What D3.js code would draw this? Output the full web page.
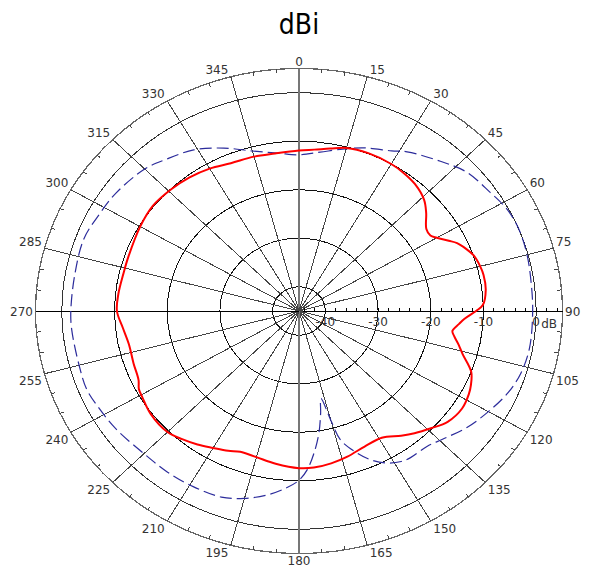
<!DOCTYPE html>
<html><head><meta charset="utf-8">
<script src="https://cdn.jsdelivr.net/npm/d3@7"></script>
<style>html,body{margin:0;padding:0;background:#fff;}svg{display:block;}</style>
</head><body>
<script>
// ---- data ----
const title = "dBi";
const angleTicks = d3.range(0, 360, 15);
const ringValues = [-40, -30, -20, -10, 0];
const ringLabels = ["-40", "-30", "-20", "-10", "0"];
const dbUnit = "dB";

const redAngles = [0,5,10,15,22,30,35,40,46,50,55,58,60,63,65,68,71,75,78,83,88,90,93,95,98,100,103,106,111,115,118,123,129,134,139,143,149,156,163,169,175,180,188,195,201,205,210,215,220,225,233,239,242,245,251,258,264,270,276,283,289,300,308,316,323,330,337,345,352];
const redValues = [-11.9,-11.6,-11.0,-10.2,-9.9,-10.0,-10.3,-10.8,-12.0,-13.5,-15.5,-15.6,-14.8,-13.1,-11.9,-10.8,-9.9,-9.4,-9.2,-9.3,-10.1,-11.4,-13.6,-14.5,-15.6,-15.1,-13.9,-12.7,-10.0,-9.0,-8.5,-8.1,-8.7,-10.2,-11.6,-12.8,-14.5,-14.4,-13.6,-13.0,-12.6,-12.6,-13.2,-13.8,-13.9,-13.2,-12.4,-11.4,-10.5,-9.7,-9.75,-10.35,-10.6,-11.4,-11.8,-12.0,-11.4,-10.45,-10.55,-10.8,-10.75,-10.2,-9.8,-10.1,-10.5,-11.1,-11.9,-12.05,-12.2];

const blueAngles = [0,7,14,20,28,32,41,48,56,62,68,75,82,90,100,107,113,120,127,134,139,145,148,152,156,160,163.5,165,167,169,171.5,174.5,177.3,180,184,189,195,201,209,217,225,235,242,248,255,265,270,280,290,298,305,315,321,329,337,345,353];
const blueValues = [-12.8,-12.0,-10.6,-9.2,-7.6,-6.3,-4.1,-2.2,-1.25,-0.3,0.0,-0.2,-0.55,-0.66,-0.6,-1.0,-1.9,-3.5,-5.1,-7.0,-8.0,-8.1,-8.4,-9.5,-11.4,-14.2,-17.3,-21.7,-26.5,-23.5,-19.5,-15.5,-12.2,-10.1,-8.35,-6.6,-5.0,-3.9,-3.6,-3.45,-3.4,-2.6,-2.1,-1.6,-1.8,-1.7,-1.7,-1.8,-1.55,-2.2,-2.6,-3.6,-4.8,-6.25,-8.5,-10.85,-12.2];

// ---- layout ----
const W = 592, H = 567;
const cx = 299, cy = 311, RX = 263.5, RY = 242.5;
const r = d3.scaleLinear().domain([-45, 5]).range([0, 1]);
const rad = d3.scaleLinear().domain([0, 360]).range([0, 2 * Math.PI]);
function pt(a, v) {
  const t = rad(a), k = r(v);
  return [cx + RX * k * Math.sin(t), cy - RY * k * Math.cos(t)];
}

const svg = d3.select("body").append("svg").attr("width", W).attr("height", H)
  .style("font-family", "'DejaVu Sans', sans-serif");

svg.append("text").attr("x", cx).attr("y", 34).attr("text-anchor", "middle")
  .style("font-family", "'DejaVu Sans Condensed', 'DejaVu Sans', sans-serif")
  .style("font-stretch", "condensed")
  .attr("font-size", 28).attr("fill", "#000").text(title);

const g = svg.append("g");
const grid = g.append("g").attr("shape-rendering", "crispEdges");

// rings
ringValues.forEach(v => {
  grid.append("ellipse").attr("cx", cx).attr("cy", cy)
    .attr("rx", RX * r(v)).attr("ry", RY * r(v))
    .attr("fill", "none").attr("stroke", v === 0 ? "#333" : "#111").attr("stroke-width", 1);
});
// outer ring
grid.append("ellipse").attr("cx", cx).attr("cy", cy).attr("rx", RX).attr("ry", RY)
  .attr("fill", "none").attr("stroke", "#666").attr("stroke-width", 1.3);

// spokes
angleTicks.forEach(a => {
  const [x2, y2] = pt(a, 5);
  const horiz = (a === 90 || a === 270);
  const vert = (a === 0 || a === 180);
  grid.append("line").attr("x1", cx).attr("y1", cy).attr("x2", x2).attr("y2", y2)
    .attr("stroke", horiz ? "#000" : (vert ? "#777" : "#444"))
    .attr("stroke-width", vert ? 1.5 : 1);
});

// outer minor ticks every 5 degrees
d3.range(0, 360, 5).filter(a => a % 15 !== 0).forEach(a => {
  const t = rad(a);
  const [x1, y1] = pt(a, 5);
  const k = 1 - 4 / 250;
  grid.append("line").attr("x1", x1).attr("y1", y1)
    .attr("x2", cx + RX * k * Math.sin(t)).attr("y2", cy - RY * k * Math.cos(t))
    .attr("stroke", "#444").attr("stroke-width", 1);
});

// dB axis ticks along 90 degrees
d3.range(-44, 5, 2).forEach(v => {
  const x = cx + RX * r(v);
  grid.append("line").attr("x1", x).attr("x2", x).attr("y1", cy - 3).attr("y2", cy + 1)
    .attr("stroke", "#000").attr("stroke-width", 1);
});

// dB labels
ringValues.forEach((v, i) => {
  g.append("text").attr("x", cx + RX * r(v)).attr("y", cy + 15)
    .attr("text-anchor", "middle").attr("font-size", 12).attr("fill", "#333")
    .text(ringLabels[i]);
});
g.append("text").attr("x", cx + RX * r(0) + 5).attr("y", cy + 17)
  .attr("text-anchor", "start").attr("font-size", 12).attr("fill", "#333").text(dbUnit);

// angle labels
angleTicks.forEach(a => {
  const t = rad(a);
  const s = Math.sin(t), c = Math.cos(t);
  const [ex, ey] = pt(a, 5);
  const sx = Math.abs(s) < 0.01 ? 0 : Math.sign(s);
  const sy = Math.abs(c) < 0.01 ? 0 : -Math.sign(c);
  const gap = 2.5;
  const x = ex + sx * gap;
  const y = sy < 0 ? ey - gap : (sy > 0 ? ey + gap + 9 : ey + 4.5);
  g.append("text").attr("x", x).attr("y", y)
    .attr("text-anchor", sx > 0 ? "start" : (sx < 0 ? "end" : "middle"))
    .attr("font-size", 12).attr("fill", "#333").text(String(a));
});

// series
const line = d3.line().curve(d3.curveCatmullRomClosed.alpha(0.5));
const bluePts = blueAngles.map((a, i) => pt(a, blueValues[i]));
const redPts = redAngles.map((a, i) => pt(a, redValues[i]));

g.append("path").attr("d", line(bluePts)).attr("fill", "none")
  .attr("stroke", "#2b2b9b").attr("stroke-width", 1.2).attr("stroke-dasharray", "12,5");
g.append("path").attr("d", line(redPts)).attr("fill", "none")
  .attr("stroke", "#ff0000").attr("stroke-width", 2);
</script>
</body></html>
